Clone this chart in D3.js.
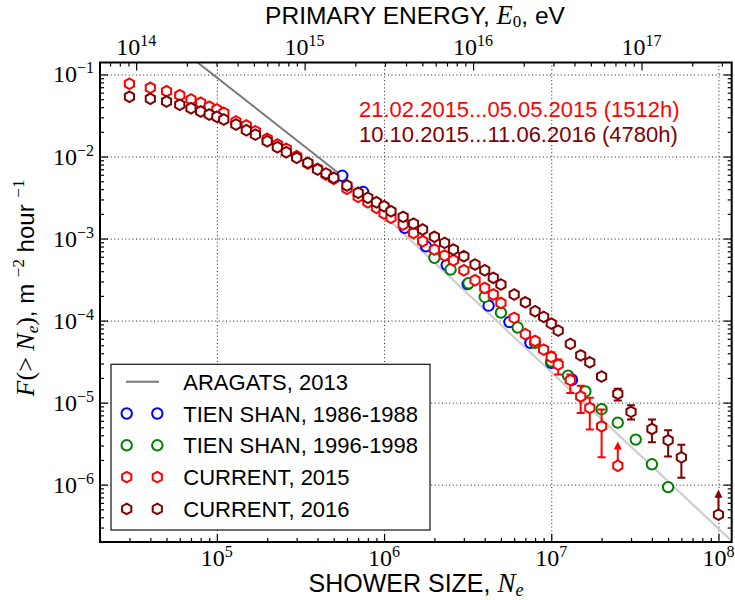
<!DOCTYPE html>
<html>
<head>
<meta charset="utf-8">
<script src="https://cdn.jsdelivr.net/npm/d3@7"></script>
<style>
  body { margin: 0; background: #fff; }
  svg { display: block; }
  .sans { font-family: "Liberation Sans", Arial, sans-serif; }
  .serif { font-family: "Liberation Serif", "DejaVu Serif", serif; }
</style>
</head>
<body>
<div id="chart"></div>
<script>
// shower size thresholds and integral flux
const sizes2015 = [3e4, 4e4, 5e4, 6e4, 7e4, 8e4, 9e4, 1e5, 1.1e5, 1.3e5, 1.5e5, 1.7e5, 2e5, 2.3e5, 2.6e5, 3e5, 3.5e5, 4e5, 4.5e5, 5e5,
                   6e5, 7e5, 8e5, 9e5, 1e6, 1.1e6, 1.3e6, 1.5e6, 1.7e6, 2e6, 2.3e6, 2.6e6, 3e6, 3.5e6, 4e6, 4.5e6, 5e6,
                   6e6, 7e6, 8e6, 9e6, 1e7, 1.1e7, 1.3e7, 1.5e7, 1.7e7, 2e7];
const flux2015 = [0.0770, 0.0688, 0.0626, 0.0559, 0.0496, 0.0452, 0.0404, 0.0374, 0.0341, 0.0268, 0.0239, 0.0203, 0.01644, 0.0140, 0.01241, 0.01008, 0.00822, 0.00708, 0.00603, 0.00535,
                  0.00404, 0.00322, 0.00277, 0.00237, 0.00202, 0.00179, 0.00148, 0.00117, 0.000927, 0.000734, 0.000620, 0.000544, 0.000411, 0.000310, 0.000250, 0.000208, 0.000164,
                  0.000108, 6.84e-5, 5.65e-5, 4.43e-5, 3.61e-5, 2.91e-5, 1.88e-5, 1.19e-5, 8.62e-6, 5.14e-6];
const errSizes2015 = [1e7, 1.1e7, 1.3e7, 1.5e7, 1.7e7, 2e7];
const errLow2015 = [3.25e-5, 2.2e-5, 1.31e-5, 7.49e-6, 4.69e-6, 2.16e-6];
const errHigh2015 = [4.1e-5, 3.35e-5, 2.2e-5, 1.61e-5, 1.15e-5, 8.22e-6];
const limitSizes2015 = [2.5e7];
const limitFlux2015 = [1.70e-6];
const limitTo2015 = [3.37e-6];

const sizes2016 = [3e4, 4e4, 5e4, 6e4, 7e4, 8e4, 9e4, 1e5, 1.1e5, 1.3e5, 1.5e5, 1.7e5, 2e5, 2.3e5, 2.6e5, 3e5, 3.5e5, 4e5, 4.5e5, 5e5,
                   6e5, 7e5, 8e5, 9e5, 1e6, 1.1e6, 1.3e6, 1.5e6, 1.7e6, 2e6, 2.3e6, 2.6e6, 3e6, 3.5e6, 4e6, 4.5e6, 5e6,
                   6e6, 7e6, 8e6, 9e6, 1e7, 1.1e7, 1.3e7, 1.5e7, 1.7e7, 2e7, 2.5e7, 3e7, 4e7, 5e7, 6e7];
const flux2016 = [0.0535, 0.0505, 0.0469, 0.0427, 0.0388, 0.0354, 0.0325, 0.0305, 0.0283, 0.0246, 0.0209, 0.0185, 0.01537, 0.01298, 0.01128, 0.00964, 0.00838, 0.00694, 0.00620, 0.00550,
                  0.00443, 0.00361, 0.00314, 0.00277, 0.00248, 0.00215, 0.00184, 0.00152, 0.00129, 0.00105, 0.000886, 0.000734, 0.000608, 0.000482, 0.000411, 0.000332, 0.000275,
                  0.000208, 0.000167, 0.000130, 0.000111, 9.19e-5, 7.55e-5, 5.20e-5, 3.77e-5, 3.10e-5, 2.08e-5, 1.28e-5, 7.72e-6, 4.78e-6, 3.47e-6, 2.15e-6];
const errSizes2016 = [2.5e7, 3e7, 4e7, 5e7, 6e7];
const errLow2016 = [1.06e-5, 6.21e-6, 3.28e-6, 2.21e-6, 1.21e-6];
const errHigh2016 = [1.48e-5, 9.32e-6, 6.21e-6, 4.62e-6, 3.07e-6];
const limitSizes2016 = [1e8];
const limitFlux2016 = [4.31e-7];
const limitTo2016 = [8.69e-7];

const sizesTS86 = [5.62e5, 7.5e5, 1e6, 1.33e6, 1.78e6, 2.37e6, 3.16e6, 4.22e6, 5.62e6, 7.5e6, 1e7, 1.33e7];
const fluxTS86 = [5.82e-3, 3.69e-3, 2.26e-3, 1.35e-3, 8.05e-4, 4.75e-4, 2.79e-4, 1.52e-4, 9.6e-5, 5.35e-5, 3.05e-5, 1.9e-5];

const sizesTS96 = [2e6, 2.5e6, 3.2e6, 4e6, 5e6, 6.3e6, 8e6, 1e7, 1.26e7, 1.6e7, 2e7, 2.5e7, 3.2e7, 4e7, 5e7];
const fluxTS96 = [5.82e-4, 4.19e-4, 2.85e-4, 1.94e-4, 1.25e-4, 8.22e-5, 5.35e-5, 3.19e-5, 2.13e-5, 1.37e-5, 8.31e-6, 5.7e-6, 3.54e-6, 1.77e-6, 9.33e-7];

const aragatsSizes = [6e4, 5.5e5];
const aragatsFlux = [0.2075, 0.00599];
const extrapSizes = [5.5e5, 1.2e8];
const extrapFlux = [0.00599, 2.06e-7];

const sizeTicks = [1e5, 1e6, 1e7, 1e8];
const fluxTicks = [1e-6, 1e-5, 1e-4, 1e-3, 1e-2, 1e-1];
const energyTicks = [1e14, 1e15, 1e16, 1e17];
const energyRange = [6.1e13, 3.43e17];

const legendLabels = ["ARAGATS, 2013", "TIEN SHAN, 1986-1988", "TIEN SHAN, 1996-1998", "CURRENT, 2015", "CURRENT, 2016"];
const periodLabels = ["21.02.2015...05.05.2015 (1512h)", "10.10.2015...11.06.2016 (4780h)"];

const red = "#ff0000", maroon = "#800000", blue = "#0000ff", green = "#008000";

const width = 735,
      height = 600,
      margin = ({ top: 62.5, right: 3.3, bottom: 58, left: 100 });

let svg = d3.select("#chart")
    .append("svg")
    .attr("width", width)
    .attr("height", height);

let x = d3.scaleLog()
    .domain([2e4, 1.2e8])
    .range([margin.left, width - margin.right]);

let y = d3.scaleLog()
    .domain([2e-7, 0.14])
    .range([height - margin.bottom, margin.top]);

let xE = d3.scaleLog() // primary energy on top
    .domain(energyRange)
    .range(x.range());

const plotW = x.range()[1] - x.range()[0],
      plotH = y.range()[0] - y.range()[1];

const isPow10 = v => Math.abs(Math.log10(v) - Math.round(Math.log10(v))) < 1e-9;
const minor = s => s.ticks().filter(v => !isPow10(v));

svg.append("clipPath").attr("id", "plot")
    .append("rect")
    .attr("x", margin.left).attr("y", margin.top)
    .attr("width", plotW).attr("height", plotH);

// dotted grid
svg.append("g")
    .attr("transform", `translate(0,${y.range()[0]})`)
    .call(d3.axisBottom(x).tickValues(sizeTicks).tickSize(-plotH).tickFormat(""))
    .call(g => g.select(".domain").remove())
    .selectAll("line").attr("stroke", "#222").attr("stroke-dasharray", "1,2.6");

svg.append("g")
    .attr("transform", `translate(${margin.left},0)`)
    .call(d3.axisLeft(y).tickValues(fluxTicks).tickSize(-plotW).tickFormat(""))
    .call(g => g.select(".domain").remove())
    .selectAll("line").attr("stroke", "#222").attr("stroke-dasharray", "1,2.6");

// inward ticks
function ticks(axis, transform) {
    svg.append("g")
        .attr("transform", transform)
        .call(axis)
        .call(g => g.select(".domain").remove())
        .selectAll("line").attr("stroke", "#000").attr("stroke-width", 1.2);
}
ticks(d3.axisBottom(x).tickValues(sizeTicks).tickSize(-8).tickFormat(""), `translate(0,${y.range()[0]})`);
ticks(d3.axisBottom(x).tickValues(minor(x)).tickSize(-4).tickFormat(""), `translate(0,${y.range()[0]})`);
ticks(d3.axisTop(xE).tickValues(energyTicks).tickSize(-8).tickFormat(""), `translate(0,${y.range()[1]})`);
ticks(d3.axisTop(xE).tickValues(minor(xE)).tickSize(-4).tickFormat(""), `translate(0,${y.range()[1]})`);
ticks(d3.axisLeft(y).tickValues(fluxTicks).tickSize(-8).tickFormat(""), `translate(${x.range()[0]},0)`);
ticks(d3.axisLeft(y).tickValues(minor(y)).tickSize(-4).tickFormat(""), `translate(${x.range()[0]},0)`);
ticks(d3.axisRight(y).tickValues(fluxTicks).tickSize(-8).tickFormat(""), `translate(${x.range()[1]},0)`);
ticks(d3.axisRight(y).tickValues(minor(y)).tickSize(-4).tickFormat(""), `translate(${x.range()[1]},0)`);

// power-of-ten labels
function pow10Label(g, v) {
    let e = Math.round(Math.log10(v));
    g.append("tspan").attr("font-size", 24).text("10");
    g.append("tspan").attr("font-size", 16).attr("dy", -9).text(String(e).replace("-", "\u2212"));
}
sizeTicks.forEach(v => svg.append("text").attr("class", "serif")
    .attr("x", x(v)).attr("y", 566).attr("text-anchor", "middle")
    .call(pow10Label, v));
energyTicks.forEach(v => svg.append("text").attr("class", "serif")
    .attr("x", xE(v)).attr("y", 55).attr("text-anchor", "middle")
    .call(pow10Label, v));
fluxTicks.forEach(v => svg.append("text").attr("class", "serif")
    .attr("x", 94).attr("y", y(v) + 8).attr("text-anchor", "end")
    .call(pow10Label, v));

// axis titles
function parts(text, list) {
    list.forEach(p => {
        let t = text.append("tspan").attr("class", p.c).attr("font-size", p.s).text(p.t);
        if (p.i) t.attr("font-style", "italic");
        if (p.dy) t.attr("dy", p.dy);
    });
}
svg.append("text").attr("x", 416).attr("y", 592).attr("text-anchor", "middle")
    .call(parts, [
        { t: "SHOWER SIZE, ", c: "sans", s: 25 },
        { t: "N", c: "serif", s: 27, i: true },
        { t: "e", c: "serif", s: 18, i: true, dy: 4 }]);

svg.append("text").attr("x", 415).attr("y", 24).attr("text-anchor", "middle")
    .call(parts, [
        { t: "PRIMARY ENERGY, ", c: "sans", s: 24.5 },
        { t: "E", c: "serif", s: 26.5, i: true },
        { t: "0", c: "serif", s: 17, dy: 3 },
        { t: ", eV", c: "sans", s: 24.5, dy: -3 }]);

svg.append("text").attr("transform", "translate(34,288) rotate(-90)").attr("text-anchor", "middle")
    .call(parts, [
        { t: "F", c: "serif", s: 26, i: true },
        { t: "(> ", c: "serif", s: 26 },
        { t: "N", c: "serif", s: 26, i: true },
        { t: "e", c: "serif", s: 17, i: true, dy: 4 },
        { t: ")", c: "serif", s: 26, dy: -4 },
        { t: ", m ", c: "sans", s: 24 },
        { t: "\u22122", c: "serif", s: 17, dy: -10 },
        { t: " hour ", c: "sans", s: 24, dy: 10 },
        { t: "\u22121", c: "serif", s: 17, dy: -10 }]);

// period annotations
periodLabels.forEach((t, i) => svg.append("text").attr("class", "sans")
    .attr("x", 359).attr("y", 117 + i * 25).attr("font-size", 22)
    .attr("fill", i === 0 ? red : maroon).text(t));

let plot = svg.append("g").attr("clip-path", "url(#plot)");

let line = d3.line().x(d => x(d[0])).y(d => y(d[1]));

plot.append("path")
    .attr("d", line(d3.zip(extrapSizes, extrapFlux)))
    .attr("fill", "none").attr("stroke", "#cdcdcd").attr("stroke-width", 2.2);
plot.append("path")
    .attr("d", line(d3.zip(aragatsSizes, aragatsFlux)))
    .attr("fill", "none").attr("stroke", "#7a7a7a").attr("stroke-width", 2);

const hexagon = r => "M" + d3.range(6).map(i => {
    let a = Math.PI / 3 * i - Math.PI / 2;
    return [r * Math.cos(a), r * Math.sin(a)];
}).join("L") + "Z";

function errorBars(ns, lo, hi, color) {
    let g = plot.append("g").attr("stroke", color).attr("stroke-width", 2);
    ns.forEach((n, i) => {
        g.append("line").attr("x1", x(n)).attr("x2", x(n)).attr("y1", y(lo[i])).attr("y2", y(hi[i]));
        g.append("line").attr("x1", x(n) - 4).attr("x2", x(n) + 4).attr("y1", y(lo[i])).attr("y2", y(lo[i]));
        g.append("line").attr("x1", x(n) - 4).attr("x2", x(n) + 4).attr("y1", y(hi[i])).attr("y2", y(hi[i]));
    });
}

function limits(ns, from, to, color) {
    let g = plot.append("g");
    ns.forEach((n, i) => {
        g.append("line").attr("x1", x(n)).attr("x2", x(n))
            .attr("y1", y(from[i])).attr("y2", y(to[i]) + 6)
            .attr("stroke", color).attr("stroke-width", 2);
        g.append("path")
            .attr("d", `M${x(n)},${y(to[i])}l-4,8h8z`)
            .attr("fill", color);
    });
}

function circles(ns, fs, color) {
    plot.append("g").selectAll("circle")
        .data(d3.zip(ns, fs))
        .join("circle")
        .attr("cx", d => x(d[0])).attr("cy", d => y(d[1])).attr("r", 5.2)
        .attr("fill", "#fff").attr("stroke", color).attr("stroke-width", 2);
}

function hexagons(ns, fs, color) {
    plot.append("g").selectAll("path")
        .data(d3.zip(ns, fs))
        .join("path")
        .attr("transform", d => `translate(${x(d[0])},${y(d[1])})`)
        .attr("d", hexagon(5.3))
        .attr("fill", "#fff").attr("stroke", color).attr("stroke-width", 2);
}

circles(sizesTS86, fluxTS86, blue);
circles(sizesTS96, fluxTS96, green);

errorBars(errSizes2015, errLow2015, errHigh2015, red);
limits(limitSizes2015, limitFlux2015, limitTo2015, red);
hexagons(sizes2015, flux2015, red);
hexagons(limitSizes2015, limitFlux2015, red);

errorBars(errSizes2016, errLow2016, errHigh2016, maroon);
limits(limitSizes2016, limitFlux2016, limitTo2016, maroon);
hexagons(sizes2016, flux2016, maroon);
hexagons(limitSizes2016, limitFlux2016, maroon);

// legend
let legend = svg.append("g");
legend.append("rect")
    .attr("x", 111).attr("y", 364.3).attr("width", 319).attr("height", 165.7)
    .attr("fill", "#fff").attr("stroke", "#111").attr("stroke-width", 1.2);

legendLabels.forEach((t, i) => {
    let cy = 381.7 + i * 31.8;
    let row = legend.append("g");
    if (i === 0) {
        row.append("line").attr("x1", 126).attr("x2", 159).attr("y1", cy).attr("y2", cy)
            .attr("stroke", "#7a7a7a").attr("stroke-width", 2);
    } else {
        let color = [blue, green, red, maroon][i - 1];
        [126.7, 157.3].forEach(mx => {
            if (i < 3) {
                row.append("circle").attr("cx", mx).attr("cy", cy).attr("r", 5.2)
                    .attr("fill", "#fff").attr("stroke", color).attr("stroke-width", 2);
            } else {
                row.append("path").attr("transform", `translate(${mx},${cy})`).attr("d", hexagon(5.3))
                    .attr("fill", "#fff").attr("stroke", color).attr("stroke-width", 2);
            }
        });
    }
    row.append("text").attr("class", "sans").attr("x", 183.3).attr("y", cy + 8)
        .attr("font-size", 22).text(t);
});

// frame
svg.append("rect")
    .attr("x", margin.left).attr("y", margin.top)
    .attr("width", plotW).attr("height", plotH)
    .attr("fill", "none").attr("stroke", "#000").attr("stroke-width", 2);
</script>
</body>
</html>
